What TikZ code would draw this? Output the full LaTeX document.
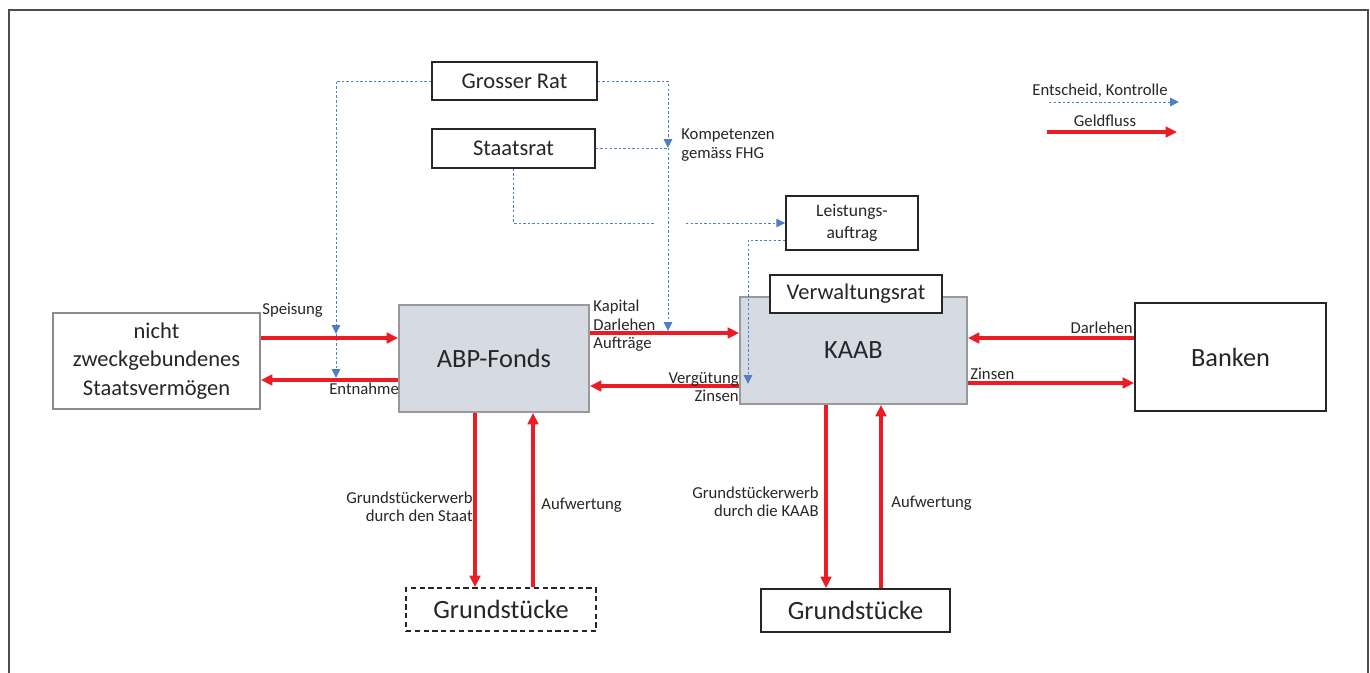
\documentclass[tikz,border=0pt]{standalone}
\usepackage{fontspec}
\setmainfont{Carlito}
\usetikzlibrary{arrows.meta}
\definecolor{geldrot}{RGB}{236,28,36}
\definecolor{kontrollblau}{RGB}{80,125,200}
\definecolor{fondsgrau}{RGB}{214,218,227}
\tikzset{
  kasten/.style={draw=black!85,line width=1pt,fill=white,align=center,inner sep=2pt,text=black!85},
  graukasten/.style={draw=black!40,line width=1pt,fill=fondsgrau,align=center,text=black!85},
  geld/.style={geldrot,line width=1.9pt,-{Triangle[length=6.5pt,width=6pt]}},
  kontrolle/.style={kontrollblau,line width=0.55pt,dash pattern=on 1.4pt off 1.2pt,-{Triangle[length=5pt,width=4.8pt]}},
  beschr/.style={font=\fontsize{9.5}{10.5}\selectfont,inner sep=0pt,text=black!85},
  gross/.style={font=\fontsize{12.8}{16.2}\selectfont},
  riesig/.style={font=\fontsize{15}{18}\selectfont},
}

\begin{document}
\begin{tikzpicture}[x=0.02cm,y=-0.02cm]
% Rahmen
\useasboundingbox (0,0) rectangle (1370,673);
\draw[black!70,line width=1.2pt] (9,673) -- (9,10) -- (1368,10) -- (1368,673);

% Kaesten
\node[kasten,gross,minimum width=3.3cm,minimum height=0.76cm] (grosserrat) at (514.5,81) {Grosser Rat};
\node[kasten,gross,minimum width=3.26cm,minimum height=0.78cm] (staatsrat) at (513.5,148.5) {Staatsrat};
\node[kasten,font=\fontsize{10}{12.5}\selectfont,minimum width=2.64cm,minimum height=1.08cm] (leistung) at (852,223) {Leistungs-\\auftrag};
\node[kasten,gross,draw=black!45,minimum width=4.14cm,minimum height=1.92cm] (vermoegen) at (156.5,361) {nicht\\zweckgebundenes\\Staatsverm\"ogen};
\node[graukasten,riesig,minimum width=3.8cm,minimum height=2.14cm] (abp) at (494,358.5) {ABP-Fonds};
\node[graukasten,riesig,minimum width=4.54cm,minimum height=2.14cm] (kaab) at (853.5,350.5) {KAAB};
\node[kasten,gross,minimum width=3.44cm,minimum height=0.76cm] (vwrat) at (856,294) {Verwaltungsrat};
\node[kasten,riesig,minimum width=3.82cm,minimum height=2.16cm] (banken) at (1230.5,357) {Banken};
\node[kasten,riesig,dash pattern=on 3pt off 2pt,minimum width=3.8cm,minimum height=0.86cm] (grund_staat) at (501,609.5) {Grundst\"ucke};
\node[kasten,riesig,minimum width=3.78cm,minimum height=0.86cm] (grund_kaab) at (855.5,610.5) {Grundst\"ucke};

% Hilfspunkte Kontrolle
\coordinate (k_speisung) at (336,334);
\coordinate (k_entnahme) at (336,378);
\coordinate (k_kompetenz) at (668,148);
\coordinate (k_kapital) at (668,331);
\coordinate (k_luecke) at (655,223);
\coordinate (k_luecke2) at (686,223);
\coordinate (k_leistaus) at (748,240);
\coordinate (k_verguetung) at (748,384);

% Entscheid, Kontrolle
\draw[kontrolle] (grosserrat.west) -| (k_speisung);
\draw[kontrolle] (k_speisung) -- (k_entnahme);
\draw[kontrolle] (grosserrat.east) -| (k_kompetenz);
\draw[kontrolle] (k_kompetenz) -- (k_kapital);
\draw[kontrolle,-] (staatsrat.east) -- (staatsrat.east -| k_kompetenz);
\draw[kontrolle,-] (staatsrat.south) |- (k_luecke);
\draw[kontrolle] (k_luecke2) -- (leistung.west);
\draw[kontrolle] (leistung.west |- k_leistaus) -- (k_leistaus) -- (k_verguetung);

% Geldfluss
\draw[geld] (vermoegen.east |- 0,338) -- (abp.west |- 0,338);
\draw[geld] (abp.west |- 0,380) -- (vermoegen.east |- 0,380);
\draw[geld] (abp.east |- 0,333) -- (kaab.west |- 0,333);
\draw[geld] (kaab.west |- 0,386) -- (abp.east |- 0,386);
\draw[geld] (banken.west |- 0,338) -- (kaab.east |- 0,338);
\draw[geld] (kaab.east |- 0,383) -- (banken.west |- 0,383);
\draw[geld] (abp.south -| 475,0) -- (grund_staat.north -| 475,0);
\draw[geld] (grund_staat.north -| 533,0) -- (abp.south -| 533,0);
\draw[geld] (kaab.south -| 826,0) -- (grund_kaab.north -| 826,0);
\draw[geld] (grund_kaab.north -| 881,0) -- (kaab.south -| 881,0);

% Beschriftungen
\node[beschr,anchor=west,align=left] (l_kompetenz) at (681,145) {Kompetenzen\\gem\"ass FHG};
\node[beschr,anchor=west] (l_speisung) at (262,310) {Speisung};
\node[beschr,anchor=west] (l_entnahme) at (329,389) {Entnahme};
\node[beschr,anchor=west,align=left] (l_kapital) at (593,326) {Kapital\\Darlehen\\Auftr\"age};
\node[beschr,anchor=east,align=right] (l_verguetung) at (739,387) {Verg\"utung\\Zinsen};
\node[beschr,anchor=east] (l_darlehen) at (1133,328) {Darlehen};
\node[beschr,anchor=west] (l_zinsen) at (970,374) {Zinsen};
\node[beschr,anchor=east,align=right] (l_erwerb_staat) at (473,507) {Grundst\"uckerwerb\\durch den Staat};
\node[beschr,anchor=west] (l_aufwertung1) at (541,505) {Aufwertung};
\node[beschr,anchor=east,align=right] (l_erwerb_kaab) at (819,502) {Grundst\"uckerwerb\\durch die KAAB};
\node[beschr,anchor=west] (l_aufwertung2) at (891,503) {Aufwertung};

% Legende
\coordinate (leg_k_a) at (1049,102);
\coordinate (leg_k_b) at (1179,102);
\coordinate (leg_g_a) at (1047,132);
\coordinate (leg_g_b) at (1177,132);
\node[beschr] (leg_kontrolle) at (1100,91) {Entscheid, Kontrolle};
\node[beschr] (leg_geld) at (1105,121) {Geldfluss};
\draw[kontrolle] (leg_k_a) -- (leg_k_b);
\draw[geld] (leg_g_a) -- (leg_g_b);
\end{tikzpicture}
\end{document}
